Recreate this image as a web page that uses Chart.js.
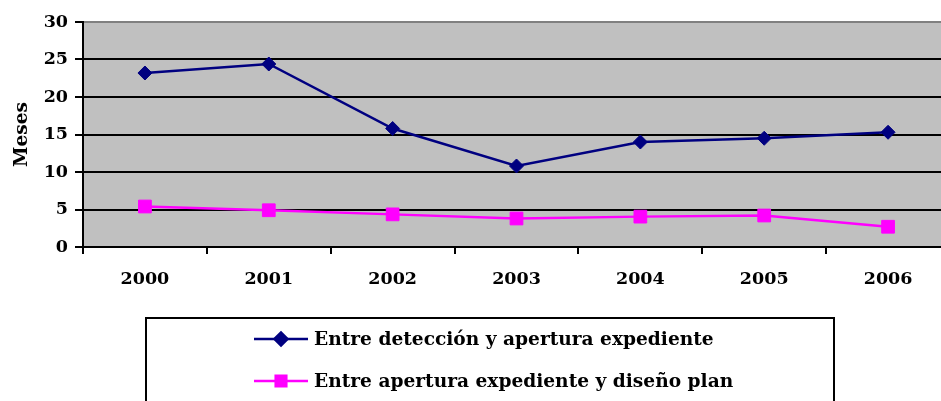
<!DOCTYPE html>
<html>
<head>
<meta charset="utf-8">
<script src="https://cdn.jsdelivr.net/npm/chart.js@4/dist/chart.umd.min.js"></script>
<style>
  html, body { margin: 0; padding: 0; background: #fff; overflow: hidden; width: 941px; height: 401px; }
  #wrap { position: absolute; left: 0; top: 0; width: 960px; height: 401px; }
</style>
</head>
<body>
<div id="wrap"><canvas id="c" width="960" height="401"></canvas></div>
<script>
const categories = ['2000', '2001', '2002', '2003', '2004', '2005', '2006'];
const seriesNames = ['Entre detección y apertura expediente', 'Entre apertura expediente y diseño plan'];
const deteccionApertura = [23.2, 24.4, 15.8, 10.8, 14.0, 14.5, 15.3];
const aperturaDiseno = [5.4, 4.9, 4.35, 3.8, 4.05, 4.2, 2.7];
const yTicks = [0, 5, 10, 15, 20, 25, 30];

const FONT_FAMILY = "'DejaVu Serif', serif";
const FONT = { family: FONT_FAMILY, size: 17.5, weight: 'bold' };
const TITLE_FONT = { family: FONT_FAMILY, size: 18.5, weight: 'bold' };
const LEGEND_SIZE = 18.6;

const bgPlugin = {
  id: 'plotBg',
  beforeDraw(chart) {
    const { ctx, chartArea: a } = chart;
    ctx.save();
    ctx.fillStyle = '#c0c0c0';
    ctx.fillRect(a.left, a.top, a.right - a.left, a.bottom - a.top);
    ctx.restore();
  }
};

const boxLegend = {
  id: 'boxLegend',
  afterDraw(chart) {
    const { ctx } = chart;
    ctx.save();
    ctx.lineWidth = 2;
    ctx.strokeStyle = '#000';
    ctx.strokeRect(146, 318, 688, 100);
    ctx.font = `bold ${LEGEND_SIZE}px ${FONT_FAMILY}`;
    ctx.textBaseline = 'middle';
    const rows = [339, 381];
    chart.data.datasets.forEach((ds, i) => {
      const y = rows[i];
      ctx.strokeStyle = ds.borderColor;
      ctx.lineWidth = 2.5;
      ctx.beginPath();
      ctx.moveTo(254, y);
      ctx.lineTo(308, y);
      ctx.stroke();
      ctx.fillStyle = ds.pointBackgroundColor;
      ctx.strokeStyle = ds.pointBorderColor;
      Chart.helpers.drawPoint(ctx, {
        pointStyle: ds.pointStyle, radius: ds.pointStyle === 'rect' ? 7.5 : 6.5, rotation: 0, borderWidth: 1
      }, 281, y);
      ctx.fillStyle = '#000';
      ctx.fillText(ds.label, 314, y + 1);
    });
    ctx.restore();
  }
};

new Chart(document.getElementById('c'), {
  type: 'line',
  data: {
    labels: categories,
    datasets: [
      {
        label: seriesNames[0],
        data: deteccionApertura,
        borderColor: '#000080',
        backgroundColor: '#000080',
        pointBackgroundColor: '#000080',
        pointBorderColor: '#000080',
        borderWidth: 2.5,
        pointStyle: 'rectRot',
        pointRadius: 7,
        pointBorderWidth: 1,
        tension: 0
      },
      {
        label: seriesNames[1],
        data: aperturaDiseno,
        borderColor: '#ff00ff',
        backgroundColor: '#ff00ff',
        pointBackgroundColor: '#ff00ff',
        pointBorderColor: '#ff00ff',
        borderWidth: 2.5,
        pointStyle: 'rect',
        pointRadius: 9,
        pointBorderWidth: 1,
        tension: 0
      }
    ]
  },
  options: {
    responsive: false,
    animation: false,
    layout: { padding: { top: 22, left: 0, right: 8, bottom: 114 } },
    plugins: { legend: { display: false }, tooltip: { enabled: false } },
    scales: {
      x: {
        type: 'category',
        offset: true,
        grid: { offset: true, drawOnChartArea: false, color: '#000', lineWidth: 2, tickLength: 7 },
        border: { color: '#000', width: 2 },
        ticks: { color: '#000', font: FONT, padding: 15, maxRotation: 0, autoSkip: false },
        afterFit(s) { s.height = 40; }
      },
      y: {
        min: 0, max: 30,
        afterBuildTicks(s) { s.ticks = yTicks.map(v => ({ value: v })); },
        grid: {
          color: ctx => (ctx.tick && ctx.tick.value === 30) ? '#808080' : '#000',
          tickColor: '#000',
          lineWidth: 2,
          tickLength: 8
        },
        border: { color: '#000', width: 2 },
        ticks: { color: '#000', font: FONT, padding: 7 },
        title: { display: true, text: 'Meses', color: '#000', font: TITLE_FONT, padding: { top: 11 } },
        afterFit(s) { s.width = 83; }
      }
    }
  },
  plugins: [bgPlugin, boxLegend]
});
</script>
</body>
</html>
